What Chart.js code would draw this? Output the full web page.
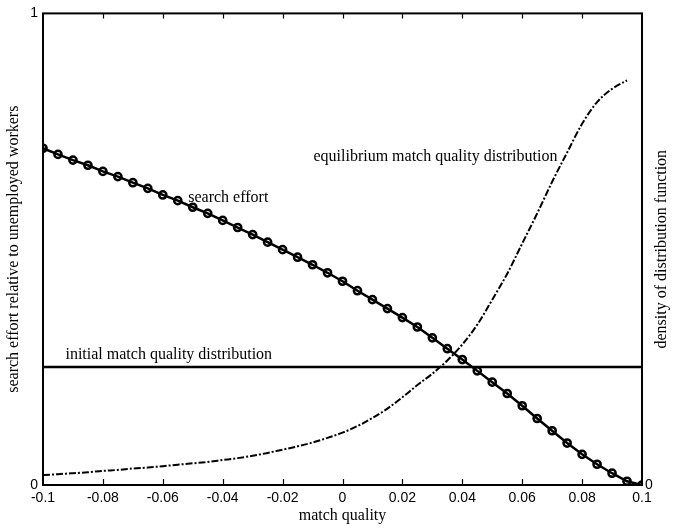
<!DOCTYPE html>
<html>
<head>
<meta charset="utf-8">
<script src="https://cdn.jsdelivr.net/npm/chart.js@4/dist/chart.umd.min.js"></script>
<style>
html,body{margin:0;padding:0;background:#fff;}
#c{display:block;}
</style>
</head>
<body>
<canvas id="c" width="675" height="529"></canvas>
<script>
// ---- data ----
const matchQuality = [-0.1,-0.095,-0.09,-0.085,-0.08,-0.075,-0.07,-0.065,-0.06,-0.055,-0.05,-0.045,-0.04,-0.035,-0.03,-0.025,-0.02,-0.015,-0.01,-0.005,0,0.005,0.01,0.015,0.02,0.025,0.03,0.035,0.04,0.045,0.05,0.055,0.06,0.065,0.07,0.075,0.08,0.085,0.09,0.095,0.1];
const searchEffort = [0.714,0.701,0.689,0.678,0.665,0.654,0.641,0.629,0.615,0.603,0.589,0.576,0.561,0.546,0.531,0.515,0.499,0.483,0.467,0.450,0.432,0.412,0.393,0.374,0.355,0.335,0.312,0.289,0.266,0.242,0.218,0.194,0.168,0.141,0.115,0.089,0.065,0.044,0.025,0.008,0.000];
const equilibriumX = [-0.1,-0.095,-0.09,-0.085,-0.08,-0.075,-0.07,-0.065,-0.06,-0.055,-0.05,-0.045,-0.04,-0.035,-0.03,-0.025,-0.02,-0.015,-0.01,-0.005,0,0.005,0.01,0.015,0.02,0.025,0.03,0.035,0.04,0.045,0.05,0.055,0.06,0.065,0.07,0.075,0.08,0.085,0.09,0.095];
const equilibriumDensity = [0.021,0.023,0.025,0.027,0.030,0.032,0.035,0.037,0.040,0.043,0.046,0.049,0.053,0.057,0.062,0.068,0.075,0.082,0.090,0.100,0.111,0.125,0.142,0.162,0.186,0.212,0.236,0.264,0.298,0.340,0.393,0.448,0.512,0.576,0.643,0.705,0.766,0.812,0.840,0.858];
const initialX = [-0.1, 0.1];
const initialDensity = [0.25, 0.25];
const xTickValues = [-0.1,-0.08,-0.06,-0.04,-0.02,0,0.02,0.04,0.06,0.08,0.1];
const xTickLabels = ['-0.1','-0.08','-0.06','-0.04','-0.02','0','0.02','0.04','0.06','0.08','0.1'];
const yLeftTickValues = [0, 1];
const yLeftTickLabels = ['0', '1'];
const yRightTickValues = [0];
const yRightTickLabels = ['0'];
const notes = [
  {text:'search effort', x:-0.0515, y:0.601},
  {text:'equilibrium match quality distribution', x:-0.0097, y:0.687},
  {text:'initial match quality distribution', x:-0.0925, y:0.268}
];

const SERIF = '"Liberation Serif", "Times New Roman", serif';
const SANS = '"Liberation Sans", Arial, sans-serif';

const framePlugin = {
  id: 'frame',
  afterDatasetsDraw(chart) {
    const {ctx, chartArea: a, scales} = chart;
    ctx.save();
    ctx.strokeStyle = '#000';
    ctx.lineWidth = 2;
    ctx.strokeRect(a.left, a.top, a.right - a.left, a.bottom - a.top);
    ctx.lineWidth = 1.2;
    xTickValues.forEach(v => {
      if (v === xTickValues[0] || v === xTickValues[xTickValues.length-1]) return;
      const px = Math.round(scales.x.getPixelForValue(v)) + 0.5;
      ctx.beginPath();
      ctx.moveTo(px, a.bottom); ctx.lineTo(px, a.bottom - 6);
      ctx.moveTo(px, a.top); ctx.lineTo(px, a.top + 5);
      ctx.stroke();
    });
    // annotations
    ctx.fillStyle = '#000';
    ctx.font = '16px ' + SERIF;
    ctx.textAlign = 'left';
    ctx.textBaseline = 'alphabetic';
    notes.forEach(n => {
      ctx.fillText(n.text, scales.x.getPixelForValue(n.x), scales.y.getPixelForValue(n.y));
    });
    // right axis title (reads bottom to top)
    ctx.save();
    ctx.translate(662, (a.top + a.bottom) / 2);
    ctx.rotate(-Math.PI / 2);
    ctx.textAlign = 'center';
    ctx.textBaseline = 'middle';
    ctx.fillText('density of distribution function', 0, 0);
    ctx.restore();
    ctx.restore();
  }
};

new Chart(document.getElementById('c'), {
  type: 'scatter',
  data: {
    datasets: [
      {
        label: 'initial match quality distribution',
        data: initialX.map((x, i) => ({x, y: initialDensity[i]})),
        showLine: true, borderColor: '#000', borderWidth: 2.5, pointRadius: 0, yAxisID: 'y'
      },
      {
        label: 'equilibrium match quality distribution',
        data: equilibriumX.map((x, i) => ({x, y: equilibriumDensity[i]})),
        showLine: true, borderColor: '#000', borderWidth: 2, borderDash: [7, 2, 2, 2],
        pointRadius: 0, cubicInterpolationMode: 'monotone', yAxisID: 'y'
      },
      {
        label: 'search effort',
        data: matchQuality.map((x, i) => ({x, y: searchEffort[i]})),
        showLine: true, borderColor: '#000', borderWidth: 2.5,
        pointRadius: 3.6, pointBorderWidth: 2.5, pointBorderColor: '#000',
        pointBackgroundColor: 'rgba(0,0,0,0)', yAxisID: 'y'
      }
    ]
  },
  options: {
    responsive: false,
    animation: false,
    devicePixelRatio: 1,
    layout: {padding: {top: 12, left: 0, right: 0, bottom: 0}},
    plugins: {legend: {display: false}, tooltip: {enabled: false}},
    scales: {
      x: {
        type: 'linear', min: -0.1, max: 0.1,
        afterBuildTicks: s => { s.ticks = xTickValues.map(v => ({value: v})); },
        afterFit: s => { s.height = 44; },
        grid: {display: false, drawTicks: false},
        border: {display: false},
        ticks: {
          color: '#000', font: {family: SANS, size: 14}, padding: 5,
          maxRotation: 0, autoSkip: false,
          callback: (v, i) => xTickLabels[i]
        },
        title: {display: true, text: 'match quality', color: '#000',
                font: {family: SERIF, size: 16}, padding: {top: 0, bottom: 4}}
      },
      y: {
        type: 'linear', position: 'left', min: 0, max: 1,
        afterBuildTicks: s => { s.ticks = yLeftTickValues.map(v => ({value: v})); },
        afterFit: s => { s.width = 43; },
        grid: {display: false, drawTicks: false},
        border: {display: false},
        ticks: {color: '#000', font: {family: SANS, size: 14}, padding: 5,
                callback: (v, i) => yLeftTickLabels[i]},
        title: {display: true, text: 'search effort relative to unemployed workers', color: '#000',
                font: {family: SERIF, size: 16}, padding: {top: 4, bottom: 0}}
      },
      y2: {
        type: 'linear', position: 'right', min: 0, max: 1,
        afterBuildTicks: s => { s.ticks = yRightTickValues.map(v => ({value: v})); },
        afterFit: s => { s.width = 33; },
        grid: {display: false, drawTicks: false},
        border: {display: false},
        ticks: {color: '#000', font: {family: SANS, size: 14}, padding: 3,
                callback: (v, i) => yRightTickLabels[i]},
        title: {display: false}
      }
    }
  },
  plugins: [framePlugin]
});
</script>
</body>
</html>
